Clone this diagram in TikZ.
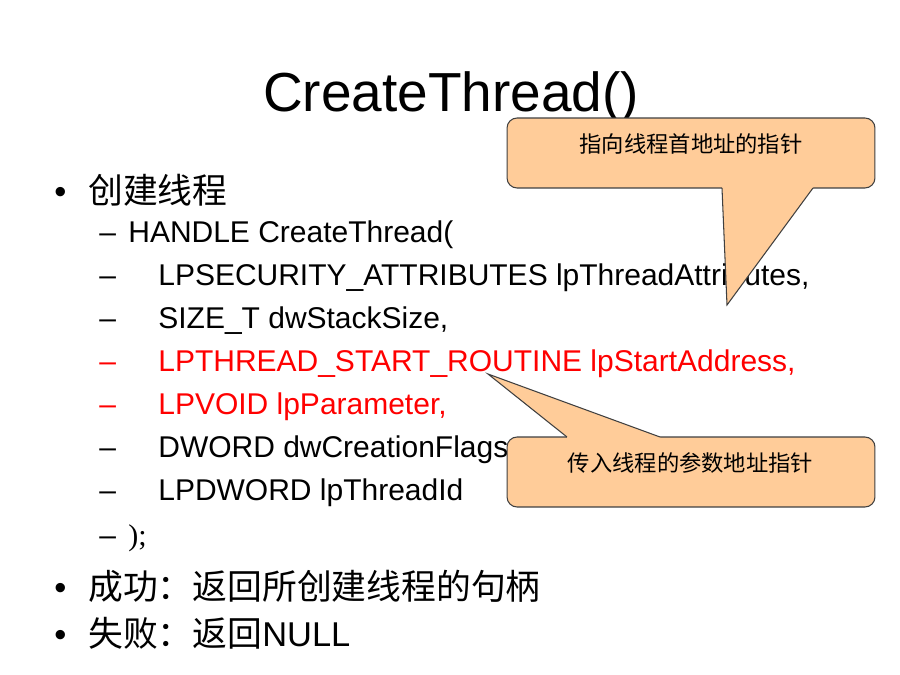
\documentclass[tikz,border=0pt]{standalone}
\usepackage{fontspec}
\setmainfont{Liberation Sans}
\newfontfamily\cjk{Noto Sans CJK SC}
\newfontfamily\serifp{Liberation Serif}
\definecolor{callfill}{HTML}{FFCC99}
\definecolor{callline}{HTML}{404040}
\definecolor{hired}{HTML}{FF0000}
\begin{document}
\begin{tikzpicture}[x=0.02cm,y=-0.02cm,
  titletxt/.style={anchor=base,inner sep=0pt,font=\fontsize{31.3}{36}\selectfont},
  txt/.style={anchor=base west,inner sep=0pt,font=\fontsize{17.07}{20}\selectfont},
  lvlone/.style={anchor=base west,inner sep=0pt,font=\fontsize{19.6}{24}\selectfont},
  cjkone/.style={anchor=base west,inner sep=0pt,font=\cjk\fontsize{19.8}{24}\selectfont},
  hot/.style={text=hired},
  callbox/.style={draw=callline,fill=callfill,line width=0.6pt,rounded corners=0.2cm,
    minimum width=7.36cm,minimum height=1.4cm,inner sep=0pt},
  calltext/.style={anchor=base,inner sep=0pt,font=\cjk\fontsize{12.7}{15}\selectfont},
  pointerline/.style={draw=callline,line width=0.6pt},
  ]
\path[use as bounding box, fill=white] (0,0) rectangle (900,675);

\node[titletxt] (title) at (451,112) {CreateThread()};

\node[lvlone] (b1) at (54,204) {•};
\node[cjkone] (l1) at (88,204) {创建线程};

\node[txt] (d0) at (99,243) {–};
\node[txt] (p0) at (128,243) {HANDLE CreateThread(};
\node[txt] (d1) at (99,286) {–};
\node[txt] (p1) at (158,286) {LPSECURITY\_ATTRIBUTES lpThreadAttributes,};
\node[txt] (d2) at (99,329) {–};
\node[txt] (p2) at (158,329) {SIZE\_T dwStackSize,};
\node[txt,hot] (d3) at (99,372) {–};
\node[txt,hot] (p3) at (158,372) {LPTHREAD\_START\_ROUTINE lpStartAddress,};
\node[txt,hot] (d4) at (99,415) {–};
\node[txt,hot] (p4) at (158,415) {LPVOID lpParameter,};
\node[txt] (d5) at (99,458) {–};
\node[txt] (p5) at (158,458) {DWORD dwCreationFlags,};
\node[txt] (d6) at (99,501) {–};
\node[txt] (p6) at (158,501) {LPDWORD lpThreadId};
\node[txt] (d7) at (99,546) {–};
\node[txt] (p7) at (128,546) {\serifp );};

\node[lvlone] (b2) at (54,600) {•};
\node[cjkone] (l2) at (88,600) {成功：返回所创建线程的句柄};
\node[lvlone] (b3) at (54,646) {•};
\node[lvlone] (l3) at (88,646) {{\cjk\fontsize{19.8}{24}\selectfont 失败：返回}NULL};

% callout 1
\node[callbox] (cA) at (691,153) {};
\coordinate (cAl) at (722,188);
\coordinate (cAr) at (813,188);
\coordinate (cAtip) at (727,305);
\fill[callfill] (cAl) -- ++(0,-4) -| (cAr) -- (cAtip) -- cycle;
\draw[pointerline] (cAl) -- (cAtip) -- (cAr);
\node[calltext] (cAt) at (691,152.5) {指向线程首地址的指针};

% callout 2
\node[callbox] (cB) at (691,472) {};
\coordinate (cBl) at (567,437);
\coordinate (cBr) at (660,437);
\coordinate (cBtip) at (488,374);
\fill[callfill] (cBl) -- ++(0,4) -| (cBr) -- (cBtip) -- cycle;
\draw[pointerline] (cBl) -- (cBtip) -- (cBr);
\node[calltext] (cBt) at (690.5,471.5) {传入线程的参数地址指针};
\end{tikzpicture}
\end{document}
